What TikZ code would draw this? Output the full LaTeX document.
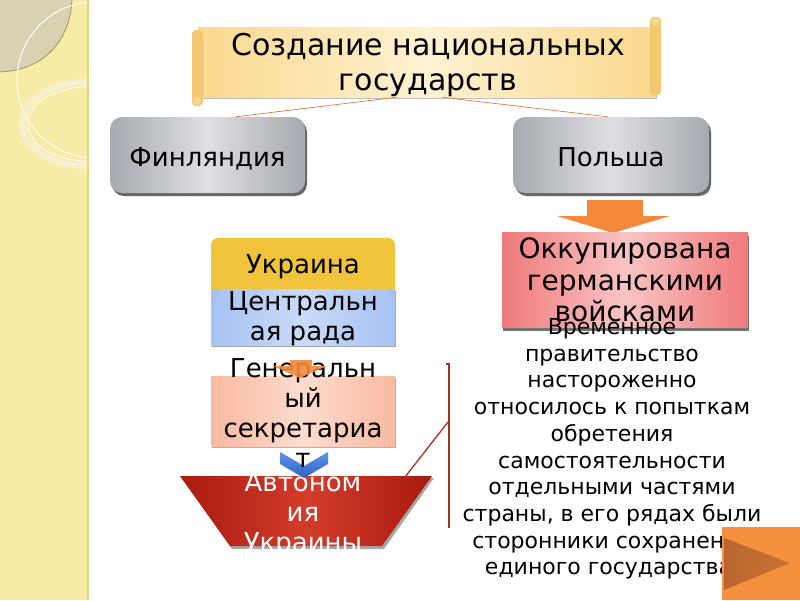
\documentclass[tikz,border=0pt]{standalone}
\usepackage{fontspec}
\setmainfont{DejaVu Sans}
\usetikzlibrary{shadows,calc}
\definecolor{strip}{HTML}{F8EBA6}
\definecolor{stripedge}{HTML}{E3D27F}
\definecolor{leafgray}{HTML}{D9D2B2}
\definecolor{leafline}{HTML}{8C8152}
\definecolor{ringcol}{HTML}{F7F0CC}
\definecolor{scrollD}{HTML}{FAD88E}
\definecolor{scrollL}{HTML}{FFF2D2}
\definecolor{scrollR}{HTML}{F2C870}
\definecolor{grayD}{HTML}{A7AAB0}
\definecolor{grayL}{HTML}{DDDFE3}
\definecolor{conn}{HTML}{DE7A3C}
\definecolor{arrowor}{HTML}{F5893A}
\definecolor{redD}{HTML}{F07A7A}
\definecolor{redL}{HTML}{F9C4C4}
\definecolor{goldc}{HTML}{F0C43A}
\definecolor{blueD}{HTML}{A6C1F3}
\definecolor{blueL}{HTML}{CADBF9}
\definecolor{peachD}{HTML}{F8B9A1}
\definecolor{peachL}{HTML}{FDDCCD}
\definecolor{trapD}{HTML}{A81B0E}
\definecolor{trapL}{HTML}{D33C2B}
\definecolor{bracket}{HTML}{A8321E}
\definecolor{chevD}{HTML}{2F62C0}
\definecolor{chevL}{HTML}{5C95EA}
\definecolor{playor}{HTML}{F5913E}
\definecolor{playdk}{HTML}{B9652F}
\tikzset{
  f26/.style={font=\fontsize{26}{30}\selectfont},
  graybox/.style={rounded corners=12pt, minimum width=195pt, minimum height=76pt,
    left color=grayD, right color=grayD, middle color=grayL,
    drop shadow={shadow xshift=2pt, shadow yshift=-3pt, fill=black!60, opacity=1}},
  txt/.style={align=center, inner sep=0pt, text=black},
  connline/.style={draw=conn, line width=0.7pt},
  brk/.style={draw=bracket, line width=1.6pt},
}
\begin{document}
\begin{tikzpicture}[x=1pt,y=-1pt]
\useasboundingbox (0,0) rectangle (800,600);
\fill[white] (0,0) rectangle (800,600);
% left decorative strip
\fill[strip] (0,0) rectangle (88,600);
\begin{scope}
  \clip (0,0) rectangle (87,600);
  \fill[leafgray] (0,0) -- (72,0) .. controls (70,40) and (45,70) .. (0,72) -- cycle;
  \draw[leafline, line width=0.6pt] (72,0) .. controls (70,40) and (45,70) .. (0,72);
  \draw[white, line width=1pt] (95,80) circle (78);
  \draw[ringcol, line width=7pt] (88,124) ellipse (66 and 42);
  \draw[white, line width=0.8pt] (88,124) ellipse (60 and 37);
\end{scope}
\draw[stripedge, line width=2pt] (88,0) -- (88,600);

% title scroll
\node[minimum width=458pt, minimum height=70pt, inner sep=0pt,
      left color=scrollD, right color=scrollD, middle color=scrollL,
      drop shadow={shadow xshift=1pt, shadow yshift=-2pt, fill=black!25, opacity=1}] (scroll) at (427,62) {};
\fill[scrollR, rounded corners=4pt] (192,30) rectangle (203,106);
\fill[scrollD] (197,101) circle (4);
\fill[scrollR, rounded corners=4pt] (650,17) rectangle (661,95);
\fill[scrollD] (655,22) circle (4);
\node[txt, font=\fontsize{30}{35}\selectfont] (title) at (428,65) {Создание национальных\\государств};

% first level boxes
\node[graybox] (fin) at (207.5,155) {};
\node[txt, f26] (fintxt) at (207.5,159) {Финляндия};
\node[graybox, minimum width=196pt] (pol) at (611,155) {};
\node[txt, f26] (poltxt) at (611,157) {Польша};

% connectors from title
\draw[connline] ($(scroll.south)+(-30,0)$) -- ($(fin.north)+(28,0)$);
\draw[connline] ($(scroll.south)+(15,0)$) -- ($(pol.north)+(-3,0)$);

% orange arrow from Польша
\fill[arrowor] (587,200) -- (643,200) -- (643,216) -- (670,216) -- (613,233) -- (557,216) -- (587,216) -- cycle;

% red box
\node[minimum width=246pt, minimum height=95pt, inner sep=0pt,
      left color=redD, right color=redD, middle color=redL,
      drop shadow={shadow xshift=1pt, shadow yshift=-3pt, fill=black!55, opacity=1}] (occ) at (625,280) {};
\node[txt, font=\fontsize{28}{31.5}\selectfont] (occtxt) at (625,280) {Оккупирована\\германскими\\войсками};

% Ukraine column
\fill[goldc] (211,289) -- (211,245) arc[start angle=180, end angle=270, radius=7] -- (388,238) arc[start angle=270, end angle=360, radius=7] -- (395,289) -- cycle;
\node[minimum width=184pt, minimum height=51pt, inner sep=0pt] (ukr) at (303,263.5) {};
\node[txt, f26] (ukrtxt) at (303,267) {Украина};
\node[minimum width=184pt, minimum height=56pt, inner sep=0pt,
      left color=blueD, right color=blueD, middle color=blueL,
      drop shadow={shadow xshift=1pt, shadow yshift=-2pt, fill=black!35, opacity=1}] (rada) at (303,317) {};
\node[txt, f26] (radatxt) at (303,319) {Центральн\\ая рада};
\node[minimum width=184pt, minimum height=70pt, inner sep=0pt,
      left color=peachD, right color=peachD, middle color=peachL,
      drop shadow={shadow xshift=1pt, shadow yshift=-2pt, fill=black!30, opacity=1}] (gen) at (303,411) {};

% trapezoid
\fill[black!35] (182,478) -- (434,478) -- (384,549) -- (232,549) -- cycle;
\shade[left color=trapD, right color=trapD, middle color=trapL] (180,476) -- (432,476) -- (382,546) -- (230,546) -- cycle;
\coordinate (trapTR) at (405,477);
\node[txt, text=white, font=\fontsize{26}{30}\selectfont] (avt) at (303,515) {Автоном\\ия\\Украины};

% blue chevron
\shade[top color=chevL, bottom color=chevD] (280,452) -- (304,466) -- (328,452) -- (328,464) -- (304,478) -- (280,464) -- cycle;

% Генеральный секретариат text
\node[txt, f26] (gentxt) at (303,413) {Генеральн\\ый\\секретариа\\т};
% small orange chevron
\fill[arrowor, opacity=0.9] (290,360) -- (312,360) -- (312,366) -- (327,366) -- (300,378) -- (273,366) -- (290,366) -- cycle;

% bracket
\coordinate (bt) at (449,364);
\coordinate (bb) at (449,528);
\coordinate (bm) at (448,422);
\draw[brk] (446,364) -- (bt) -- (bb);
\draw[brk, line width=1.3pt] (bm) -- (trapTR);

% temporary government text
\node[txt, font=\fontsize{22}{26.7}\selectfont] (vp) at (612,449) {Временное\\правительство\\настороженно\\относилось к попыткам\\обретения\\самостоятельности\\отдельными частями\\страны, в его рядах были\\сторонники сохранения\\единого государства.};

% play button
\fill[playor] (722,527) rectangle (800,600);
\shade[left color=playdk, right color=playdk!70!playor] (724,538) -- (790,563) -- (724,590) -- cycle;
\end{tikzpicture}
\end{document}
